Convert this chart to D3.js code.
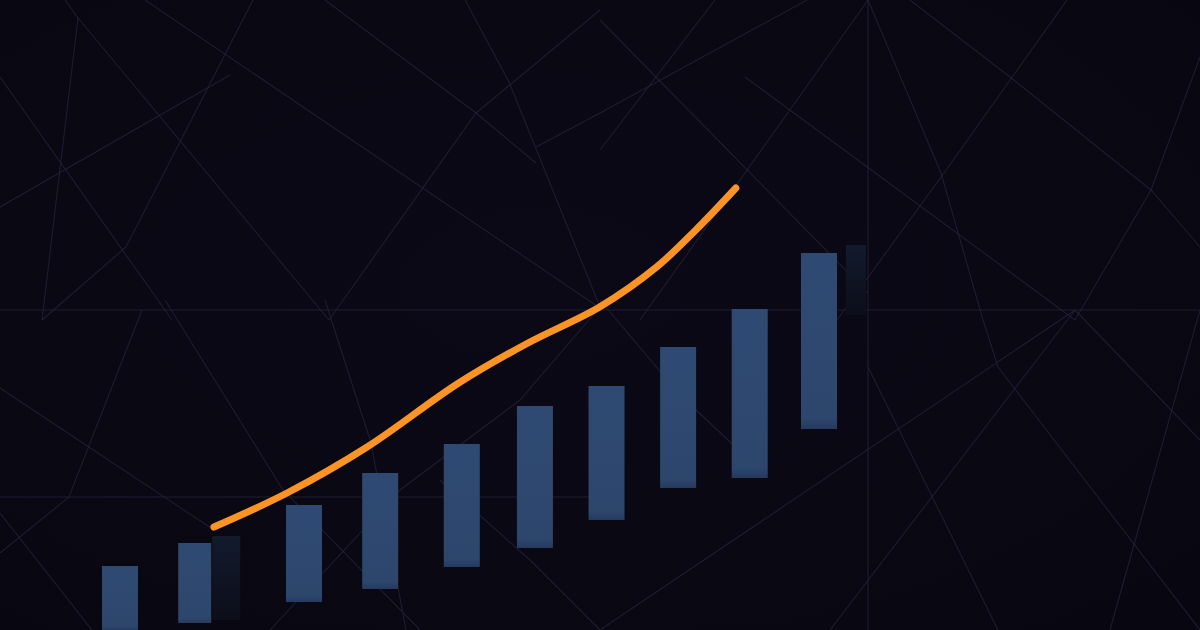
<!DOCTYPE html>
<html><head><meta charset="utf-8">
<script src="https://cdn.jsdelivr.net/npm/d3@7"></script>
<style>html,body{margin:0;padding:0;background:#0a0813;}svg{display:block}</style>
</head><body>
<svg id="c" width="1200" height="630"></svg>
<script>
// ---- data ----
const barPos   = [0, 0.99, 2.39, 3.38, 4.44, 5.39, 6.32, 7.25, 8.18, 9.08];
const barLow   = [0, 1.4, 5.6, 8.2, 12.6, 16.4, 22, 28.4, 30.4, 40.2];
const barHigh  = [12.8, 17.4, 25, 31.4, 37.2, 44.8, 48.8, 56.6, 64.2, 75.4];
const ghostPos  = [1.38, 9.56];
const ghostLow  = [2, 63];
const ghostHigh = [18.8, 77];
const lineX = [1.22, 2.17, 3.21, 4.40, 5.30, 6.23, 6.97, 7.48, 8.0];
const lineY = [20.6, 27.4, 36.6, 49.4, 57.4, 64.6, 72.6, 80, 88.4];
// decorative background network (segments in pixel space)
const netLines = [
 [[145,0],[600,308]],[[78,18],[329,320]],[[65,0],[78,18]],[[78,18],[42,320]],
 [[0,77],[172,320]],[[465,0],[509,82],[600,307]],[[600,10],[476,113],[329,320]],
 [[325,0],[476,113],[536,163]],[[600,113],[536,147]],[[253,0],[126,247],[42,320]],
 [[600,20],[868,293]],[[600,113],[807,0]],[[600,150],[715,0]],
 [[868,0],[868,630]],[[868,0],[941,173],[983,320]],[[868,0],[745,173],[640,320]],
 [[745,77],[1075,320]],[[910,0],[1010,77],[1151,190],[1200,247]],
 [[1067,0],[944,173],[837,320]],[[1200,57],[1151,190],[1075,320]],
 [[0,310],[1200,310]],[[0,497],[600,497]],
 [[600,630],[1075,310]],[[1075,310],[1200,440]],[[868,367],[998,630]],
 [[983,320],[998,367],[1200,630]],[[1075,310],[830,630]],[[1200,310],[1110,630]],
 [[0,388],[214,530]],[[165,300],[283,490],[420,630]],[[325,300],[371,443],[406,630]],
 [[142,310],[69,497],[0,553]],[[0,513],[92,630]],[[600,307],[520,400],[400,490],[270,630]],
 [[440,480],[530,560],[600,630]],[[0,207],[230,75]],[[600,300],[680,395],[760,470]]
];

const W = 1200, H = 630;
const svg = d3.select('#c');
const x = d3.scaleLinear().domain([0, 9.08]).range([120, 819]);
const y = d3.scaleLinear().domain([0, 100]).range([630, 130]);

const defs = svg.append('defs');
const rg = defs.append('radialGradient').attr('id','bg').attr('cx','45%').attr('cy','45%').attr('r','75%');
rg.append('stop').attr('offset','0%').attr('stop-color','#0b0916');
rg.append('stop').attr('offset','100%').attr('stop-color','#080711');
const gg = defs.append('linearGradient').attr('id','ghost').attr('x1',0).attr('y1',0).attr('x2',0).attr('y2',1);
gg.append('stop').attr('offset','0%').attr('stop-color','#121a2c');
gg.append('stop').attr('offset','100%').attr('stop-color','#0c0e1a');
const bg = defs.append('linearGradient').attr('id','bar').attr('x1',0).attr('y1',0).attr('x2',0).attr('y2',1);
bg.append('stop').attr('offset','0%').attr('stop-color','#2f4a72');
bg.append('stop').attr('offset','94%').attr('stop-color','#2d466c');
bg.append('stop').attr('offset','100%').attr('stop-color','#26395d');

svg.append('rect').attr('width',W).attr('height',H).attr('fill','url(#bg)');

svg.append('g').selectAll('path').data(netLines).join('path')
  .attr('d', d => d3.line()(d))
  .attr('fill','none').attr('stroke','#24213a').attr('stroke-width',1.1).attr('stroke-opacity',0.8);

const bw = 36;
svg.append('g').selectAll('rect').data(ghostPos).join('rect')
  .attr('x', (d,i) => x(d) - (i === 0 ? 14 : 10))
  .attr('width', (d,i) => i === 0 ? 28 : 20)
  .attr('y', (d,i) => y(ghostHigh[i]))
  .attr('height', (d,i) => y(ghostLow[i]) - y(ghostHigh[i]))
  .attr('fill','url(#ghost)');

svg.append('g').selectAll('rect').data(barPos).join('rect')
  .attr('x', d => x(d) - bw/2)
  .attr('width', (d,i) => i === 1 ? 33 : bw)
  .attr('y', (d,i) => y(barHigh[i]))
  .attr('height', (d,i) => y(barLow[i]) - y(barHigh[i]))
  .attr('fill','url(#bar)');

const pts = lineX.map((v,i) => [x(v), y(lineY[i])]);
svg.append('path').datum(pts)
  .attr('d', d3.line().curve(d3.curveCatmullRom.alpha(0.5)))
  .attr('fill','none').attr('stroke','#fb9424').attr('stroke-width',7)
  .attr('stroke-linecap','round').attr('stroke-linejoin','round');
</script>
</body></html>
